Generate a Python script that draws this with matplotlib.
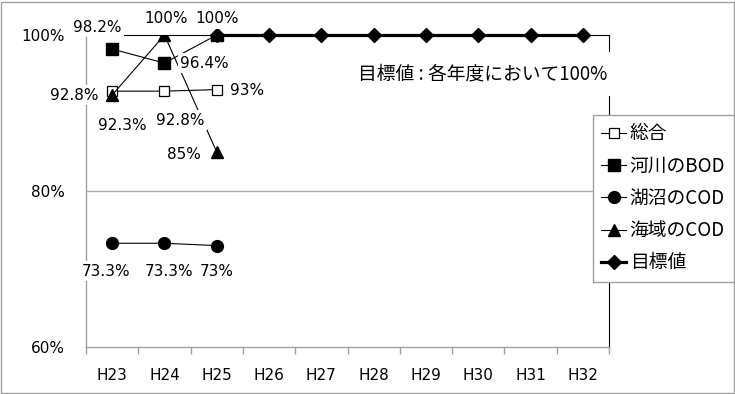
#!/usr/bin/env python3
import matplotlib
matplotlib.use('Agg')
import matplotlib.pyplot as plt
from matplotlib.patches import Rectangle

plt.rcParams['font.family'] = ['DejaVu Sans', 'Noto Sans CJK JP']
jp_font = ['Noto Sans CJK JP', 'DejaVu Sans']

years = ['H23', 'H24', 'H25', 'H26', 'H27', 'H28', 'H29', 'H30', 'H31', 'H32']

sogo = [92.8, 92.8, 93.0]        # 総合
kasen_bod = [98.2, 96.4, 100.0]  # 河川のBOD
kosho_cod = [73.3, 73.3, 73.0]   # 湖沼のCOD
kaiiki_cod = [92.3, 100.0, 85.0] # 海域のCOD
target = [100.0] * 8             # 目標値 H25-H32

# label text and pixel offset (dx, dy) for each point
sogo_labels = [('92.8%', (-38, -4)), ('92.8%', (16, -29)), ('93%', (30, -1))]
kasen_labels = [('98.2%', (-15, 22)), ('96.4%', (40, 0)), ('100%', (0, 16))]
kosho_labels = [('73.3%', (-6, -28)), ('73.3%', (5, -28)), ('73%', (0, -26))]
kaiiki_labels = [('92.3%', (10, -30)), ('100%', (2, 16)), ('85%', (-33, -3))]

fig = plt.figure(figsize=(7.35, 3.94), dpi=100)
ax = fig.add_axes([86/735, 1-347/394, 523/735, 312/394])

x = list(range(len(years)))

l1, = ax.plot(x[:3], sogo, color='black', lw=0.8, marker='s', ms=6.5,
              mfc='white', mec='black', mew=0.9, zorder=4)
l2, = ax.plot(x[:3], kasen_bod, color='black', lw=0.8, marker='s', ms=8.5,
              mfc='black', mec='black', zorder=4)
l3, = ax.plot(x[:3], kosho_cod, color='black', lw=0.8, marker='o', ms=8.5,
              mfc='black', mec='black', zorder=4)
l4, = ax.plot(x[:3], kaiiki_cod, color='black', lw=0.8, marker='^', ms=8.5,
              mfc='black', mec='black', zorder=4)
l5, = ax.plot(x[2:], target, color='black', lw=2.3, marker='D', ms=7.5,
              mfc='black', mec='black', zorder=3, clip_on=False)

for vals, labs in [(kasen_bod, kasen_labels), (sogo, sogo_labels),
                   (kaiiki_cod, kaiiki_labels), (kosho_cod, kosho_labels)]:
    for i, (v, (txt, off)) in enumerate(zip(vals, labs)):
        ax.annotate(txt, (x[i], v), xytext=off, textcoords='offset pixels',
                    ha='center', va='center', fontsize=11, zorder=6,
                    annotation_clip=False,
                    bbox=dict(boxstyle='square,pad=0.15', fc='white', ec='none'))

ax.text(0.997, 0.875, '目標値 : 各年度において100%', transform=ax.transAxes,
        ha='right', va='center', fontsize=13.5, family=jp_font, zorder=6, clip_on=False,
        bbox=dict(boxstyle='square,pad=0.6', fc='white', ec='none'))

ax.set_xlim(-0.5, len(years) - 0.5)
ax.set_ylim(60, 100)
ax.set_yticks([60, 80, 100])
ax.set_yticklabels(['60%', '80%', '100%'], fontsize=11)
ax.set_xticks(x)
ax.set_xticklabels(years, fontsize=11)
ax.set_xticks([i - 0.5 for i in range(len(years) + 1)], minor=True)
ax.tick_params(axis='x', which='major', length=0, pad=15)
ax.tick_params(axis='x', which='minor', length=5, color='#a0a0a0', width=1)
ax.tick_params(axis='y', length=0, pad=15)

ax.axhline(80, color='#b0b0b0', lw=1, zorder=1)

for s in ['left', 'bottom']:
    ax.spines[s].set_color('#a0a0a0')
    ax.spines[s].set_linewidth(1)
for s in ['top', 'right']:
    ax.spines[s].set_color('black')
    ax.spines[s].set_linewidth(0.8)

fig.legend([l1, l2, l3, l4, l5], ['総合', '河川のBOD', '湖沼のCOD', '海域のCOD', '目標値'],
           loc='upper left', bbox_to_anchor=(593/735, 1-115/394), borderaxespad=0,
           prop={'family': jp_font, 'size': 13.5}, handlelength=1.3,
           handletextpad=0.2, labelspacing=0.6, borderpad=0.45,
           fancybox=False, framealpha=1, edgecolor='#a0a0a0')

fig.patches.append(Rectangle((0.5/735, 1/394), 733/735, 391/394, transform=fig.transFigure,
                             fill=False, edgecolor='#a0a0a0', lw=1))

fig.savefig('out.png', dpi=100)
